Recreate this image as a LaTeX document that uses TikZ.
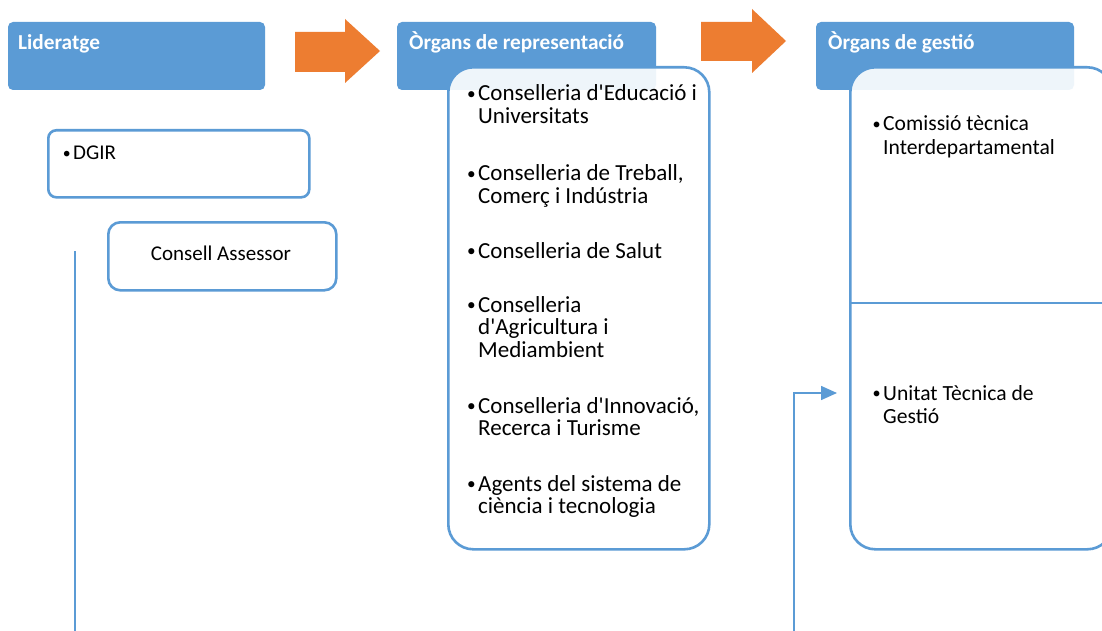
\documentclass[tikz,border=0pt]{standalone}
\usepackage{fontspec}
\setmainfont{Carlito}[Ligatures=TeXOff]
\usetikzlibrary{arrows.meta}
\definecolor{mblue}{HTML}{5B9BD5}
\definecolor{morange}{HTML}{ED7D31}
\newcommand{\myitem}[1]{\begin{tabular}[t]{@{}l@{}}\llap{\raisebox{0.12ex}{\scalebox{0.75}{•}}\hspace{2.5pt}}#1\end{tabular}}
\begin{document}
\begin{tikzpicture}[x=1pt,y=-1pt,
  hdr/.style={fill=mblue, rounded corners=5pt, anchor=north west, inner sep=0pt, outer sep=0pt},
  panel/.style={draw=mblue, line width=2.6pt, fill=white, fill opacity=0.9, rounded corners=25pt, anchor=north west, inner sep=0pt},
  smallbox/.style={draw=mblue, line width=2.6pt, fill=white, anchor=north west, inner sep=0pt},
  hdrtxt/.style={text=white, font=\fontsize{21.3}{24}\selectfont\bfseries, anchor=base west, inner sep=0pt},
  item/.style={font=\fontsize{21}{22.5}\selectfont, anchor=base west, inner sep=0pt},
  bigitem/.style={font=\fontsize{23}{22.5}\selectfont, anchor=base west, inner sep=0pt},
  ritem/.style={font=\fontsize{21.6}{23.5}\selectfont, anchor=base west, inner sep=0pt},
  blockarrow/.style={fill=morange, draw=none},
  thinline/.style={draw=mblue, line width=1.5pt}
]
\clip (0,0) rectangle (1102,631);
\fill[white] (0,0) rectangle (1102,631);

% headers
\node[hdr, minimum width=257pt, minimum height=68pt] (lid) at (8,22) {};
\node[hdr, minimum width=259pt, minimum height=68pt] (rep) at (397,22) {};
\node[hdr, minimum width=258pt, minimum height=68pt] (ges) at (816,22) {};
\node[hdrtxt] (lidt) at (18,50) {Lideratge};
\node[hdrtxt] (rept) at (409,50) {Òrgans de representació};
\node[hdrtxt] (gest) at (828,50) {Òrgans de gestió};

% block arrows
\fill[blockarrow] (295,32) -- (345,32) -- (345,19) -- (380,51) -- (345,83) -- (345,72) -- (295,72) -- cycle;
\fill[blockarrow] (701,22) -- (752,22) -- (752,9) -- (786,41) -- (752,73) -- (752,61) -- (701,61) -- cycle;

% panels
\node[panel, minimum width=261pt, minimum height=482pt] (p1) at (447,66) {};
\node[panel, minimum width=262pt, minimum height=482pt] (p2) at (849,66) {};
\coordinate (divl) at (849,303);
\coordinate (divr) at (1102,303);
\draw[thinline] (divl) -- (divr);

% left boxes
\node[smallbox, rounded corners=8pt, minimum width=261pt, minimum height=67pt] (dgir) at (47,129) {};
\node[item] (dgirt) at (73,160) {\myitem{DGIR}};
\node[smallbox, rounded corners=12pt, minimum width=228pt, minimum height=68pt] (cons) at (107,221) {};
\node[item, anchor=base] (const) at (221,260) {Consell Assessor};

% items in panel 1
\node[bigitem] (i1) at (478,101) {\myitem{Conselleria d'Educació i\\Universitats}};
\node[bigitem] (i2) at (478,181) {\myitem{Conselleria de Treball,\\Comerç i Indústria}};
\node[bigitem] (i3) at (478,258) {\myitem{Conselleria de Salut}};
\node[bigitem] (i4) at (478,312) {\myitem{Conselleria\\d'Agricultura i\\Mediambient}};
\node[bigitem] (i5) at (478,413) {\myitem{Conselleria d'Innovació,\\Recerca i Turisme}};
\node[bigitem] (i6) at (478,491) {\myitem{Agents del sistema de\\ciència i tecnologia}};

% items in panel 2
\node[ritem] (j1) at (883,131) {\myitem{Comissió tècnica\\Interdepartamental}};
\node[ritem] (j2) at (883,400) {\myitem{Unitat Tècnica de\\Gestió}};

% connectors
\coordinate (ltop) at (75,251);
\coordinate (lbot) at (75,631);
\draw[thinline] (ltop) -- (lbot);
\coordinate (cbot) at (794,631);
\coordinate (cend) at (837,393);
\draw[thinline, -{Triangle[length=16pt,width=14pt]}] (cbot) |- (cend);
\end{tikzpicture}
\end{document}
